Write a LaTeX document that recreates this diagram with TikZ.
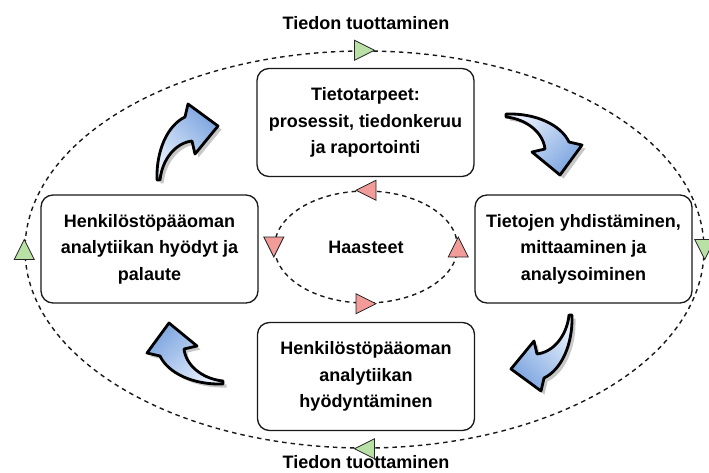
\documentclass[tikz,border=0pt]{standalone}
\usepackage{fontspec}
\setmainfont{Liberation Sans}
\usetikzlibrary{shapes.geometric}

\definecolor{arrowlight}{HTML}{E6EFFC}
\definecolor{arrowdark}{HTML}{7EA6E0}
\definecolor{flowgreen}{HTML}{B9E0A5}
\definecolor{flowred}{HTML}{F19C99}

\newcommand\labelfont{\fontsize{18}{26.5}\selectfont\bfseries}

% curved block arrow: tail at the origin, bending up and to the right
\newcommand\bendarrowpath{(0,0) .. controls (-1,-30) and (11,-55) .. (28,-63)
  -- (31,-76) -- (61,-54) -- (38,-26) -- (35,-39)
  .. controls (18,-37) and (5,-20) .. (3,0) -- cycle}

\tikzset{
  x=1pt, y=-1pt,
  stagebox/.style={draw=black!90, line width=1.3pt, rounded corners=12pt,
    fill=white, minimum width=217pt, minimum height=108pt, align=center,
    inner sep=2pt, font=\labelfont},
  plainlabel/.style={font=\labelfont, inner sep=0pt},
  cycleline/.style={draw=black!90, dash pattern=on 4.5pt off 4pt, line width=1.4pt,
    ellipse, inner sep=0pt},
  bendarrow/.style={draw=black, line width=2.8pt, line join=round,
    top color=arrowdark, bottom color=arrowlight},
  arrowshadow/.style={fill=black!22},
  flowmark/.pic={\filldraw[line width=0.8pt, draw=black!85, fill=#1]
    (10,0) -- (-10,10) -- (-10,-10) -- cycle;}
}

% #1,#2: tail position, #3: rotation, #4: shading angle
\newcommand\bendarrow[4]{%
  \begin{scope}[shift={(#1+3.5,#2+3.5)}, rotate=#3]
    \fill[arrowshadow] \bendarrowpath;
  \end{scope}
  \begin{scope}[shift={(#1,#2)}, rotate=#3]
    \draw[bendarrow, shading angle=#4] \bendarrowpath;
  \end{scope}}

\begin{document}
\begin{tikzpicture}
\useasboundingbox[fill=white] (0,0) rectangle (709,473);

% outer and inner dashed cycles
\node[cycleline, minimum width=679pt, minimum height=397pt] (outer) at (364.5,249.5) {};
\node[cycleline, minimum width=183pt, minimum height=112pt] (inner) at (366,247) {};
\node[plainlabel] (challenges) at (inner.center) {Haasteet};

% direction marks on the cycles
\pic[rotate=0]   at (outer.north) {flowmark=flowgreen};
\pic[rotate=-90] at (outer.east)  {flowmark=flowgreen};
\pic[rotate=180] at (outer.south) {flowmark=flowgreen};
\pic[rotate=90]  at (outer.west)  {flowmark=flowgreen};
\pic[rotate=180] at (inner.north) {flowmark=flowred};
\pic[rotate=-90] at (inner.west)  {flowmark=flowred};
\pic[rotate=0]   at (inner.south) {flowmark=flowred};
\pic[rotate=90]  at (inner.east)  {flowmark=flowred};

% stages
\node[stagebox] (needs) at (365.5,122.5) {Tietotarpeet:\\prosessit, tiedonkeruu\\ja raportointi};
\node[stagebox] (analysis) at (583.5,249) {Tietojen yhdistäminen,\\mittaaminen ja\\analysoiminen};
\node[stagebox] (use) at (366,376.5) {Henkilöstöpääoman\\analytiikan\\hyödyntäminen};
\node[stagebox] (benefits) at (149.5,249) {Henkilöstöpääoman\\analytiikan hyödyt ja\\palaute};

% cycle labels
\node[plainlabel, anchor=base] (toplabel) at (366,30) {Tiedon tuottaminen};
\node[plainlabel, anchor=base] (bottomlabel) at (366,468) {Tiedon tuottaminen};

% curved arrows between the stages
\bendarrow{157}{180}{0}{-45}
\bendarrow{506}{114}{-90}{-135}
\bendarrow{572}{315}{180}{135}
\bendarrow{223}{384}{90}{45}
\end{tikzpicture}
\end{document}
